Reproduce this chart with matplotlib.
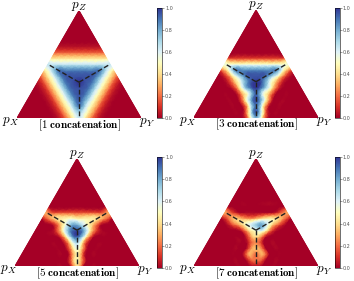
import numpy as np
import matplotlib
matplotlib.use("Agg")
import matplotlib.pyplot as plt
import matplotlib.tri as mtri

plt.rcParams["mathtext.fontset"] = "cm"

N = 18                  # divisions along each side of the simplex
H = np.sqrt(3) / 2

# values on a barycentric grid:
# row k has p_Z = k/N, entries run left to right (p_Y = j/N, p_X = 1 - p_Y - p_Z).
# rows above the ones listed are deep red (0).
conc1 = [
    [0, 0, 0, 0, 0, 0, .04, .18, .42, .65, .42, .18, .04, 0, 0, 0, 0, 0, 0],
    [0, 0, 0, 0, 0, .04, .18, .42, .65, .65, .42, .18, .04, 0, 0, 0, 0, 0],
    [0, 0, 0, 0, .04, .18, .42, .65, .88, .65, .42, .18, .04, 0, 0, 0, 0],
    [0, 0, 0, .04, .18, .42, .65, .88, .88, .65, .42, .18, .04, 0, 0, 0],
    [0, 0, .04, .18, .42, .65, .88, .95, .88, .65, .42, .18, .04, 0, 0],
    [0, .04, .18, .42, .65, .88, .95, .95, .88, .65, .42, .18, .04, 0],
    [.04, .18, .42, .65, .88, .95, 1.0, .95, .88, .65, .42, .18, .04],
    [.18, .42, .65, .88, .95, .95, .95, .95, .88, .65, .42, .18],
    [.42, .65, .88, .88, .88, .88, .88, .88, .88, .65, .42],
    [.65, .65, .65, .65, .65, .65, .65, .65, .65, .65],
    [.42, .42, .42, .42, .42, .42, .42, .42, .42],
    [.18, .18, .18, .18, .18, .18, .18, .18],
    [.04, .04, .04, .04, .04, .04, .04],
]

conc3 = [
    [0] * 8 + [.35, .8, .35] + [0] * 8,
    [0] * 7 + [.15, .8, .8, .15] + [0] * 7,
    [0] * 6 + [.03, .5, .9, .5, .03] + [0] * 6,
    [0] * 5 + [.03, .45, .88, .88, .45, .03] + [0] * 5,
    [0] * 5 + [.3, .6, .92, .6, .3] + [0] * 5,
    [0, 0, 0, .05, .35, .75, .95, .95, .7, .35, .05, 0, 0, 0],
    [0, 0, .08, .35, .65, .9, 1.0, .9, .6, .3, .05, 0, 0],
    [0, .1, .4, .7, .9, .95, .95, .9, .7, .4, .1, 0],
    [.2, .5, .85, .85, .85, .85, .85, .85, .85, .5, .2],
    [.55, .5, .5, .5, .5, .5, .5, .5, .5, .55],
    [.12, .12, .12, .12, .12, .12, .12, .12, .12],
]

conc5 = [
    [0] * 9 + [.4] + [0] * 9,
    [0] * 8 + [.35, .35] + [0] * 8,
    [0] * 7 + [.1, .45, .1] + [0] * 7,
    [0] * 6 + [.05, .45, .45, .03] + [0] * 6,
    [0] * 5 + [.03, .4, .7, .3, 0] + [0] * 5,
    [0, 0, 0, 0, .08, .5, .9, .85, .4, .03, 0, 0, 0, 0],
    [0, 0, 0, .12, .5, .85, .95, .8, .4, .1, 0, 0, 0],
    [0, 0, .05, .3, .6, .8, .7, .5, .3, .05, 0, 0],
    [.05, .25, .4, .45, .5, .45, .45, .45, .4, .25, .05],
    [.3, .15, .15, .15, .15, .15, .15, .15, .15, .3],
]

conc7 = [
    [0] * 9 + [.03] + [0] * 9,
    [0] * 8 + [.2, .2] + [0] * 8,
    [0] * 7 + [.3, .2, .3] + [0] * 7,
    [0] * 7 + [.3, .3] + [0] * 7,
    [0] * 6 + [.1, .25, .05] + [0] * 6,
    [0] * 5 + [.05, .35, .35, .05] + [0] * 5,
    [0, 0, 0, 0, .1, .4, .55, .6, .25, .03, 0, 0, 0],
    [0, 0, .15, .3, .5, .65, .8, .65, .35, .15, 0, 0],
    [.02, .2, .35, .3, .25, .3, .4, .45, .4, .25, .03],
    [.3, .15, .03, .02, .02, .02, .02, .03, .15, .3],
]

titles = ["[1 concatenation]", "[3 concatenation]",
          "[5 concatenation]", "[7 concatenation]"]
cbar_ticks = [0.0, 0.2, 0.4, 0.6, 0.8, 1.0]

# grid points and triangles of the simplex
gx, gy, start = [], [], []
for k in range(N + 1):
    start.append(len(gx))
    for j in range(N + 1 - k):
        gx.append(j / N + k / (2 * N))
        gy.append(k / N * H)
tris = []
for k in range(N):
    for j in range(N - k):
        a, b, c = start[k] + j, start[k] + j + 1, start[k + 1] + j
        tris.append([a, b, c])
        if j < N - k - 1:
            tris.append([b, start[k + 1] + j + 1, c])
grid = mtri.Triangulation(gx, gy, tris)
refiner = mtri.UniformTriRefiner(grid)


def flat(rows):
    vals = []
    for k in range(N + 1):
        if k < len(rows):
            vals += rows[k]
        else:
            vals += [0] * (N + 1 - k)
    return np.array(vals, dtype=float)


W, Hp = 354, 281
# triangle box (left, bottom) and colorbar (left, top, bottom) in pixels
tri_box = [(17, 118), (194, 117.5), (15, 266), (194, 266)]
cb_box = [(157, 8, 118), (334.7, 8, 118), (157, 157, 268), (334.7, 157, 268)]
side = 124

fig = plt.figure(figsize=(W / 100, Hp / 100), dpi=100)

for rows, title, (l, b), (cl, ct, cbt) in zip([conc1, conc3, conc5, conc7],
                                               titles, tri_box, cb_box):
    ax = fig.add_axes([l / W, (Hp - b) / Hp, side / W, side * H / Hp])
    tri_f, z_f = refiner.refine_field(flat(rows), subdiv=3)
    im = ax.tripcolor(tri_f, z_f, shading="gouraud", cmap="RdYlBu",
                      vmin=0, vmax=1)
    c = (0.5, H / 3)
    for ex, ey in [(0.5, 0.0), (0.25, H / 2), (0.75, H / 2)]:
        ax.plot([c[0], ex], [c[1], ey], color="#222222", lw=1.0,
                linestyle=(0, (3.5, 1.7)))
    ax.set_xlim(0, 1)
    ax.set_ylim(0, H)
    ax.axis("off")

    ax.text(0.5, H + 0.036, r"$p_Z$", ha="center", va="center", fontsize=9.5)
    ax.text(-0.052, -0.03, r"$p_X$", ha="center", va="center", fontsize=9.5)
    ax.text(1.05, -0.035, r"$p_Y$", ha="center", va="center", fontsize=9.5)
    ax.text(0.5, -0.055, r"$\mathbf{" + title.replace(" ", r"\ ") + "}$",
            ha="center", va="center", fontsize=8)

    cax = fig.add_axes([cl / W, (Hp - cbt) / Hp, 5 / W, (cbt - ct) / Hp])
    cb = fig.colorbar(im, cax=cax, ticks=cbar_ticks, format="%.1f")
    cb.outline.set_linewidth(0.4)
    cax.tick_params(labelsize=3.5, length=1.2, width=0.4, pad=1,
                    colors="#555555")

fig.savefig("out.png", dpi=100)
